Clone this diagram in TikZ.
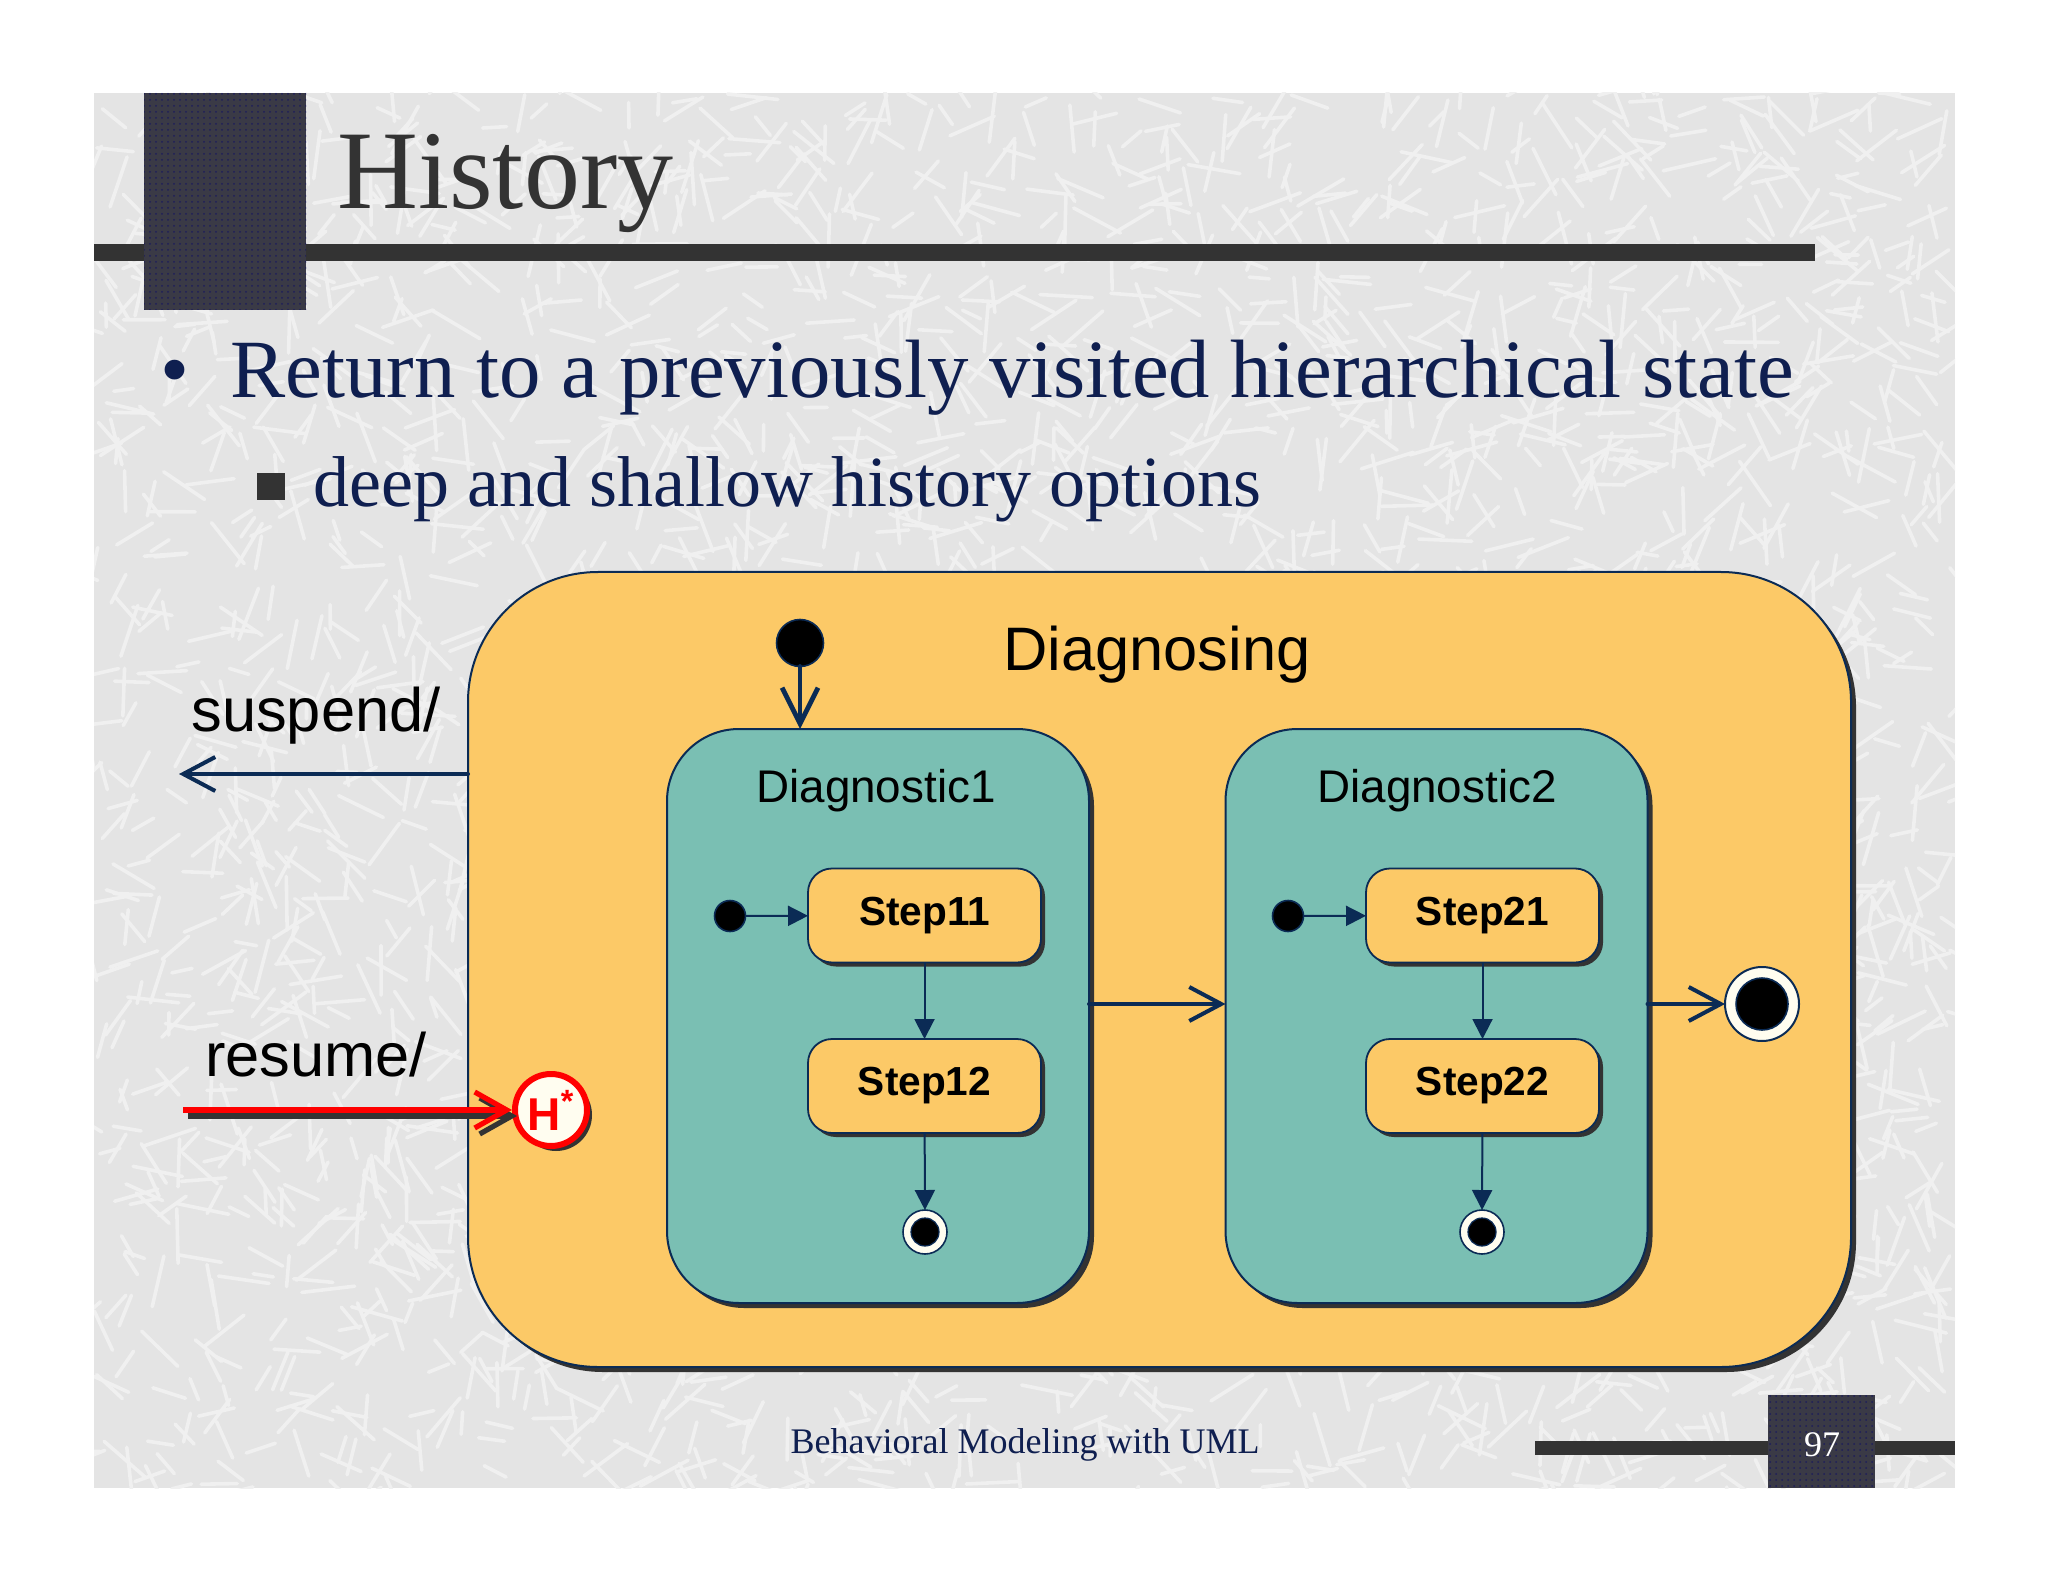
\documentclass[tikz,border=0pt]{standalone}
\usepackage{fontspec}
\setmainfont{Liberation Serif}
\newfontfamily\arialf{Liberation Sans}
\usetikzlibrary{arrows.meta,shadows,patterns}
\definecolor{slidebg}{HTML}{E4E4E4}
\definecolor{streak}{HTML}{F0F0F0}
\definecolor{darkbar}{HTML}{333333}
\definecolor{navy}{HTML}{0B2B55}
\definecolor{txtnavy}{HTML}{0F1F50}
\definecolor{orangefill}{HTML}{FCC967}
\definecolor{tealfill}{HTML}{7ABFB3}
\definecolor{cream}{HTML}{FFFDF0}
\definecolor{hred}{HTML}{FF0000}
\definecolor{sqfill}{HTML}{3A3A46}
\definecolor{sqdot}{HTML}{1E1E5A}
\tikzset{
  sh/.style={drop shadow={shadow xshift=2.5pt, shadow yshift=-2.5pt, fill=darkbar, opacity=1}},
  outerstate/.style={draw=navy, line width=1pt, fill=orangefill, rounded corners=65pt,
    minimum width=691.5pt, minimum height=397.5pt, inner sep=0pt, outer sep=0pt, sh},
  diagstate/.style={draw=navy, line width=1pt, fill=tealfill, rounded corners=36pt,
    minimum width=211pt, minimum height=287pt, inner sep=0pt, outer sep=0pt, sh},
  stepbox/.style={draw=navy, line width=0.9pt, fill=orangefill, rounded corners=12pt,
    minimum width=116.5pt, minimum height=47pt, inner sep=0pt, outer sep=0pt,
    font=\arialf\bfseries\fontsize{20.3}{24}\selectfont,
    drop shadow={shadow xshift=2pt, shadow yshift=-2pt, fill=darkbar, opacity=1}},
  initdot/.style={circle, fill=black, draw=navy, line width=0.8pt, inner sep=0pt, outer sep=0pt},
  finalsm/.style={circle, fill=cream, draw=navy, line width=0.8pt, minimum size=22pt, inner sep=0pt, outer sep=0pt,
    path picture={\fill[black, draw=navy, line width=0.6pt] (path picture bounding box.center) circle (7pt);}},
  finalbig/.style={circle, fill=cream, draw=navy, line width=1pt, minimum size=37pt, inner sep=0pt, outer sep=0pt,
    path picture={\fill[black, draw=navy, line width=0.8pt] (path picture bounding box.center) circle (13pt);}},
  bigconn/.style={draw=navy, line width=2pt, line cap=round, -{Straight Barb[length=16pt, width=17pt, line width=2pt]}},
  smallconn/.style={draw=navy, line width=1pt, -{Triangle[length=10pt, width=10pt]}},
  difont/.style={font=\arialf\fontsize{22.9}{27}\selectfont, text=black},
  lblfont/.style={font=\arialf\fontsize{30.7}{36}\selectfont, text=black},
  patsq/.style={fill=sqfill, postaction={pattern=dots, pattern color=sqdot}}
}
\begin{document}
\begin{tikzpicture}[x=0.5pt, y=-0.5pt]
\useasboundingbox (0,0) rectangle (2048,1582);
\fill[white] (0,0) rectangle (2048,1582);
\fill[slidebg] (94,93) rectangle (1955,1488);
% background texture
\begin{scope}
\clip (94,93) rectangle (1955,1488);
\pgfmathsetseed{4711}
\foreach \i in {1,...,3200}{
  \pgfmathsetmacro\xa{94+1861*rnd}
  \pgfmathsetmacro\ya{93+1395*rnd}
  \pgfmathsetmacro\an{360*rnd}
  \pgfmathsetmacro\le{20+35*rnd}
  \draw[streak, line width=1.8pt, line cap=round] (\xa,\ya) -- ++(\an:\le);
}
\end{scope}
% title bar
\fill[darkbar] (94,244) rectangle (1815,261);
\path[patsq] (144,93) rectangle (306,310);
\node[anchor=base west, inner sep=0pt, text=darkbar, font=\fontsize{56}{60}\selectfont] (title) at (337,209) {History};
% bullets
\node[anchor=base west, inner sep=0pt, text=txtnavy, font=\fontsize{41.4}{46}\selectfont] (bul) at (160,398) {•};
\node[anchor=base west, inner sep=0pt, text=txtnavy, font=\fontsize{41.4}{46}\selectfont] (b1) at (230,398) {Return to a previously visited hierarchical state};
\fill[darkbar] (257,473) rectangle (285,500);
\node[anchor=base west, inner sep=0pt, text=txtnavy, font=\fontsize{36}{40}\selectfont] (b2) at (313,507) {deep and shallow history options};
% states
\node[outerstate] (outer) at (1159.5,969.5) {};
\node[lblfont] (diagnosing) at (1157,655) {Diagnosing};
\node[diagstate] (d1) at (878,1016) {};
\node[diagstate] (d2) at (1436.5,1016) {};
\node[difont] (d1l) at (876,791) {Diagnostic1};
\node[difont] (d2l) at (1437,791) {Diagnostic2};
\node[stepbox] (s11) at (924.5,915.5) {Step11};
\node[stepbox] (s12) at (924.5,1086) {Step12};
\node[stepbox] (s21) at (1482.5,915.5) {Step21};
\node[stepbox] (s22) at (1482.5,1086) {Step22};
\node[initdot, minimum size=23.5pt] (i0) at (800,643) {};
\node[initdot, minimum size=15.5pt] (i1) at (730,916) {};
\node[initdot, minimum size=15.5pt] (i2) at (1288,916) {};
\node[finalsm] (f1) at (925,1232) {};
\node[finalsm] (f2) at (1482,1232) {};
\node[finalbig] (fin) at (1762,1004) {};
\node[circle, draw=hred, line width=3pt, fill=cream, minimum size=36pt, inner sep=0pt,
      drop shadow={shadow xshift=2.5pt, shadow yshift=-2.5pt, fill=darkbar, opacity=1},
      font=\arialf\bfseries\fontsize{23}{26}\selectfont, text=hred] (hist) at (551,1110) {H\textsuperscript{*}};
% connectors
\draw[bigconn, line width=2.4pt, -{Straight Barb[length=18pt, width=18pt, line width=2.4pt]}] (i0) -- (i0 |- d1.north);
\draw[bigconn] ([yshift=6pt]d1.east) -- ([yshift=6pt]d2.west);
\draw[bigconn] ([yshift=6pt]d2.east) -- (fin.west);
\coordinate (susend) at (179,774);
\draw[bigconn] (outer.west |- susend) -- (susend);
\node[lblfont] (suspend) at (316,716) {suspend/};
\coordinate (resstart) at (183,1110);
\draw[draw=hred, line width=2.6pt, -{Straight Barb[length=16pt, width=18pt, line width=2.6pt]},
      preaction={draw=darkbar, line width=2.6pt, -{Straight Barb[length=16pt, width=18pt, line width=2.6pt]}, transform canvas={shift={(2.5pt,-3pt)}}}] (resstart) -- (hist.west);
\node[lblfont] (resume) at (316,1055) {resume/};
\draw[smallconn] (i1) -- (s11);
\draw[smallconn] (s11) -- (s12);
\draw[smallconn] (s12) -- (f1);
\draw[smallconn] (i2) -- (s21);
\draw[smallconn] (s21) -- (s22);
\draw[smallconn] (s22) -- (f2);
% footer
\node[text=txtnavy, font=\fontsize{18}{22}\selectfont] (footer) at (1025,1445) {Behavioral Modeling with UML};
\fill[darkbar] (1535,1441) rectangle (1955,1455);
\path[patsq] (1768,1395) rectangle (1875,1488);
\node[text=white, font=\fontsize{18}{22}\selectfont] (pnum) at (1822,1445) {97};
\end{tikzpicture}
\end{document}
